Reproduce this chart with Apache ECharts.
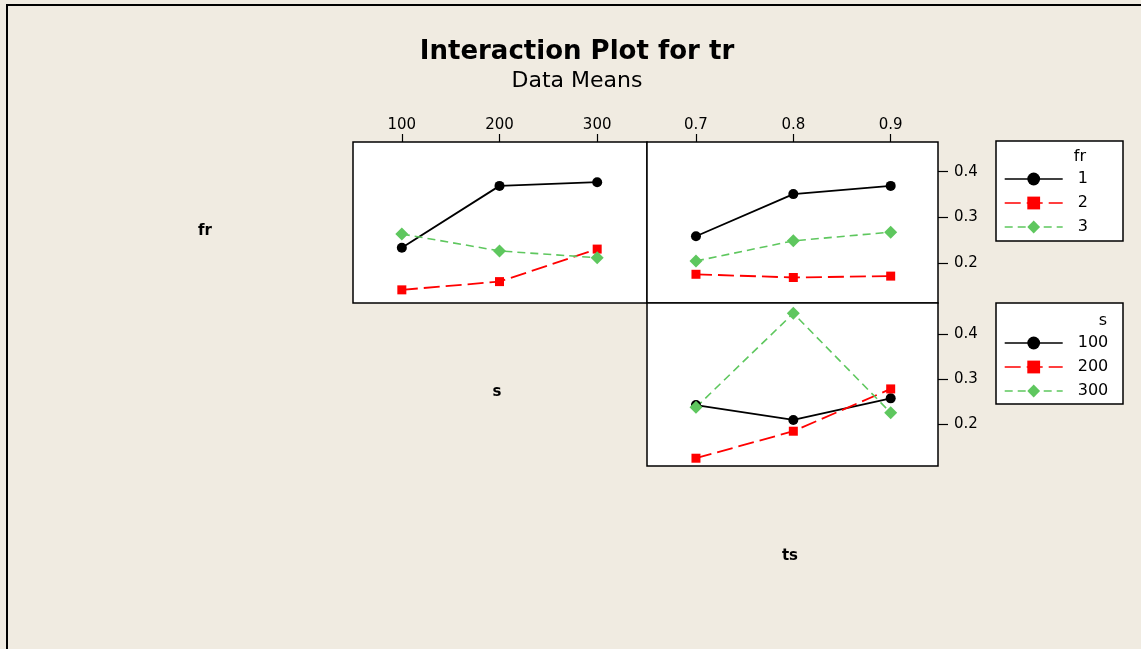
<!DOCTYPE html>
<html><head><meta charset="utf-8">
<script src="https://cdn.jsdelivr.net/npm/echarts@6/dist/echarts.min.js"></script>
<style>html,body{margin:0;padding:0;background:#F0EBE1}#c{width:1141px;height:649px}</style>
</head><body><div id="c"></div>
<script>
const sLevels = [100, 200, 300];
const tsLevels = [0.7, 0.8, 0.9];
const frNames = ['1', '2', '3'];
const sNames = ['100', '200', '300'];
// top-left panel: tr means vs s, one line per fr level
const fr1_s = [0.234, 0.369, 0.377];
const fr2_s = [0.142, 0.160, 0.231];
const fr3_s = [0.264, 0.227, 0.212];
// top-right panel: tr means vs ts, one line per fr level
const fr1_ts = [0.259, 0.351, 0.369];
const fr2_ts = [0.176, 0.169, 0.172];
const fr3_ts = [0.205, 0.249, 0.268];
// bottom panel: tr means vs ts, one line per s level
const s100_ts = [0.242, 0.209, 0.257];
const s200_ts = [0.124, 0.184, 0.278];
const s300_ts = [0.237, 0.446, 0.225];
const yTicks = [0.2, 0.3, 0.4];

const FONT = 'DejaVu Sans';
const styles = [
  { color: '#000000', symbol: 'circle', symbolSize: 10, type: 'solid', width: 1.8 },
  { color: '#FF0000', symbol: 'rect', symbolSize: 9, type: [16, 6], width: 1.8 },
  { color: '#5EC75E', symbol: 'diamond', symbolSize: 13, type: [8, 5], width: 1.6 }
];

function mk(name, xs, ys, idx, st) {
  return {
    name: name, type: 'line', xAxisIndex: idx, yAxisIndex: idx,
    data: xs.map((x, i) => [x, ys[i]]),
    symbol: st.symbol, symbolSize: st.symbolSize, showSymbol: true,
    itemStyle: { color: st.color },
    lineStyle: { color: st.color, type: st.type, width: st.width },
    emphasis: { disabled: true }, animation: false
  };
}

const series = [
  mk('1', sLevels, fr1_s, 0, styles[0]),
  mk('2', sLevels, fr2_s, 0, styles[1]),
  mk('3', sLevels, fr3_s, 0, styles[2]),
  mk('1', tsLevels, fr1_ts, 1, styles[0]),
  mk('2', tsLevels, fr2_ts, 1, styles[1]),
  mk('3', tsLevels, fr3_ts, 1, styles[2]),
  mk('100', tsLevels, s100_ts, 2, styles[0]),
  mk('200', tsLevels, s200_ts, 2, styles[1]),
  mk('300', tsLevels, s300_ts, 2, styles[2])
];

const gridBase = { show: true, backgroundColor: '#FFFFFF', borderColor: '#000', borderWidth: 1.5, containLabel: false };
const tickStyle = { lineStyle: { color: '#000', width: 1.2 } };
const lblStyle = { color: '#000', fontSize: 15, fontFamily: FONT };

function xAx(idx, min, max, vals, showLbl, fmt) {
  return {
    gridIndex: idx, type: 'value', min: min, max: max, position: 'top',
    axisLine: { show: false }, splitLine: { show: false },
    axisTick: Object.assign({ show: showLbl, inside: false, length: 8, customValues: vals }, tickStyle),
    axisLabel: Object.assign({ show: showLbl, margin: 9, customValues: vals, formatter: fmt }, lblStyle)
  };
}
function yAx(idx, min, max, showLbl) {
  return {
    gridIndex: idx, type: 'value', min: min, max: max, position: 'right',
    axisLine: { show: false }, splitLine: { show: false },
    axisTick: Object.assign({ show: showLbl, inside: false, length: 10, customValues: yTicks }, tickStyle),
    axisLabel: Object.assign({ show: showLbl, margin: 16, customValues: yTicks, formatter: v => v.toFixed(1) }, lblStyle)
  };
}

const option = {
  backgroundColor: '#F0EBE1',
  textStyle: { fontFamily: FONT },
  animation: false,
  title: {
    text: 'Interaction Plot for tr', subtext: 'Data Means',
    left: 577, top: 39, textAlign: 'center', itemGap: 5, padding: 0,
    textStyle: { fontFamily: FONT, fontSize: 26, fontWeight: 'bold', color: '#000' },
    subtextStyle: { fontFamily: FONT, fontSize: 22, color: '#000' }
  },
  grid: [
    Object.assign({ left: 353, top: 142, width: 294, height: 161 }, gridBase),
    Object.assign({ left: 647, top: 142, width: 291, height: 161 }, gridBase),
    Object.assign({ left: 647, top: 303, width: 291, height: 163 }, gridBase)
  ],
  xAxis: [
    xAx(0, 50, 351, sLevels, true, v => String(v)),
    xAx(1, 0.6497, 0.9486, tsLevels, true, v => v.toFixed(1)),
    xAx(2, 0.6497, 0.9486, tsLevels, false, v => v.toFixed(1))
  ],
  yAxis: [
    yAx(0, 0.1133, 0.4648, false),
    yAx(1, 0.1133, 0.4648, true),
    yAx(2, 0.1067, 0.4689, true)
  ],
  legend: [
    { data: frNames, orient: 'vertical', left: 1004, top: 171, itemWidth: 58, itemHeight: 16, itemGap: 8,
      padding: 0, selectedMode: false, lineStyle: { width: 1.4 },
      textStyle: { fontSize: 16, color: '#000', fontFamily: FONT, padding: [0, 0, 0, 10] } },
    { data: sNames, orient: 'vertical', left: 1004, top: 335, itemWidth: 58, itemHeight: 16, itemGap: 8,
      padding: 0, selectedMode: false, lineStyle: { width: 1.4 },
      textStyle: { fontSize: 16, color: '#000', fontFamily: FONT, padding: [0, 0, 0, 10] } }
  ],
  graphic: [
    { type: 'rect', z: -10, shape: { x: 7, y: 5, width: 1250, height: 720 }, style: { fill: 'none', stroke: '#000', lineWidth: 2 } },
    { type: 'rect', z: 0, shape: { x: 996, y: 141, width: 127, height: 100 }, style: { fill: '#FFFFFF', stroke: '#000', lineWidth: 1.5 } },
    { type: 'rect', z: 0, shape: { x: 996, y: 303, width: 127, height: 101 }, style: { fill: '#FFFFFF', stroke: '#000', lineWidth: 1.5 } },
    { type: 'text', z: 5, x: 1086, y: 157, style: { text: 'fr', fontSize: 16, fontFamily: FONT, fill: '#000', align: 'right', verticalAlign: 'middle' } },
    { type: 'text', z: 5, x: 1107, y: 321, style: { text: 's', fontSize: 16, fontFamily: FONT, fill: '#000', align: 'right', verticalAlign: 'middle' } },
    { type: 'text', x: 205, y: 231, style: { text: 'fr', fontSize: 15, fontWeight: 'bold', fontFamily: FONT, fill: '#000', align: 'center', verticalAlign: 'middle' } },
    { type: 'text', x: 497, y: 392, style: { text: 's', fontSize: 15, fontWeight: 'bold', fontFamily: FONT, fill: '#000', align: 'center', verticalAlign: 'middle' } },
    { type: 'text', x: 790, y: 556, style: { text: 'ts', fontSize: 15, fontWeight: 'bold', fontFamily: FONT, fill: '#000', align: 'center', verticalAlign: 'middle' } }
  ],
  series: series
};

const chart = echarts.init(document.getElementById('c'), null, { renderer: 'canvas' });
chart.setOption(option);
</script>
</body></html>
